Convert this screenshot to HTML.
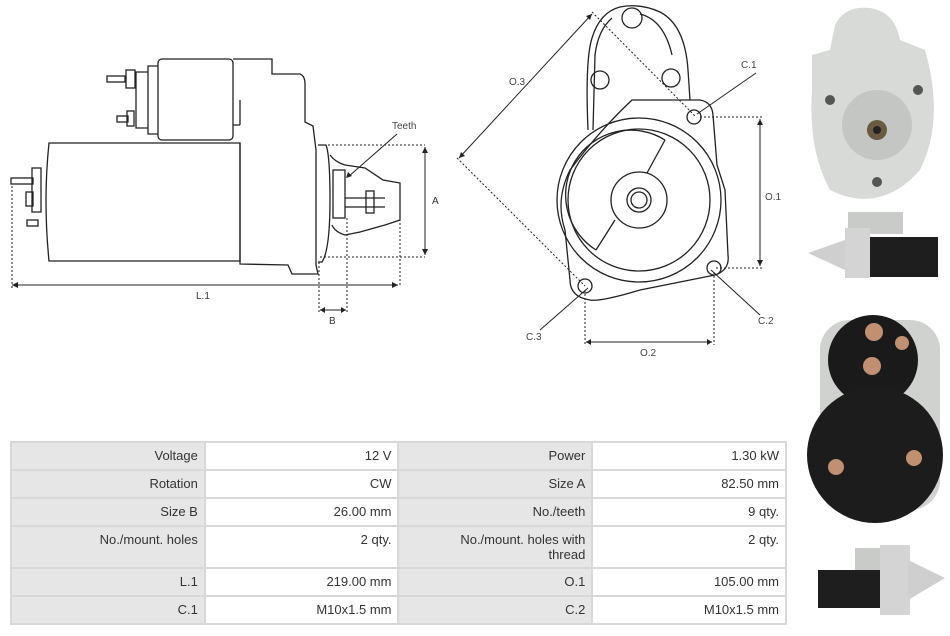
<!DOCTYPE html>
<html><head><meta charset="utf-8"><style>
body{margin:0;width:950px;height:636px;background:#fff;overflow:hidden;font-family:"Liberation Sans",sans-serif;position:relative}
table{position:absolute;left:10px;top:441px;border-collapse:collapse;width:777px;font-size:13px;color:#333}
td{border:2px solid #d8d8d8;text-align:right;padding:5px 6px 0 6px;vertical-align:top;width:182px}
td.l{background:#e6e6e6}
tr{height:28px}
</style></head><body>
<svg width="950" height="636" style="position:absolute;left:0;top:0" fill="none" stroke="#222" stroke-width="1.3" font-family="Liberation Sans" font-size="10">
<path d="M49 143 L240 143 L240 261 L49 261 Q43 200 49 143Z"/>
<rect x="158" y="59" width="75" height="81" rx="4"/>
<path d="M158 66 L148 66 L148 134 L158 134 M148 72 L136 72 L136 128 L148 128"/>
<path d="M233 59 L272 59 L272 74 L300 74 Q305 76 305 84 L305 122 L313 126 L316 150 L316 265 L318 274 L292 274 L288 265 L240 264 L240 143"/>
<path d="M240 125 L240 100 M240 125 L233 125"/>
<path d="M318 145 L326 145 Q330 155 330 200 Q330 250 322 262 L318 262"/>
<path d="M330 155 Q335 162 345 165 L365 168 L383 180 L400 183 L400 220 L385 225 L360 232 L345 235 Q335 232 332 225"/>
<rect x="333" y="170" width="12" height="48"/>
<path d="M345 198 L385 198 M345 207 L385 207"/>
<rect x="366" y="191" width="8" height="22"/>
<rect x="11" y="178" width="22" height="6"/><rect x="27" y="220" width="11" height="6"/>
<rect x="32" y="168" width="9" height="44"/><rect x="26" y="192" width="7" height="14"/>
<rect x="107" y="76" width="18" height="6"/><rect x="126" y="70" width="9" height="18"/>
<rect x="117" y="116" width="11" height="6"/><rect x="127" y="111" width="7" height="15"/>
<g stroke-dasharray="2 2" stroke-width="1">
<path d="M12 186 L12 290"/><path d="M320 145 L425 145 M320 257 L425 257"/>
<path d="M400 183 L400 285 M319 262 L319 312 M347 218 L347 312"/>
</g>
<path d="M12 285 L398 285 M425 147 L425 255 M320 310 L346 310 M348 177 L397 134" stroke-width="1"/>
<g fill="#222" stroke="none"><path d="M12 285 l6 -3 v6z M398 285 l-6 -3 v6z M425 147 l-3 6 h6z M425 255 l-3 -6 h6z M320 310 l5 -3 v6z M346 310 l-5 -3 v6z M346 178 l2 -6 l4 4z"/>
<text x="196" y="299" font-size="10" fill="#333">L.1</text><text x="329" y="324" fill="#333">B</text><text x="432" y="204" fill="#333">A</text><text x="392" y="129" fill="#444">Teeth</text></g>
<path d="M588 130 Q585 60 592 38 Q600 12 620 7 Q640 3 660 12 Q685 25 688 70 L690 100"/>
<path d="M593 130 L595 55 Q598 30 612 18 M640 14 Q664 20 672 55"/>
<circle cx="632" cy="18" r="10"/><circle cx="600" cy="80" r="9"/><circle cx="671" cy="78" r="9"/>
<path d="M632 100 L700 100 Q712 102 713 115 L717 165 L725 190 L728 255 Q730 270 715 275 L640 290 Q600 302 590 300 Q570 297 570 280 L565 230 Q555 200 570 170 Q600 130 632 100Z"/>
<circle cx="639" cy="200" r="82"/><circle cx="639" cy="200" r="71"/>
<path d="M665 140 A60 60 0 0 0 596 250" />
<path d="M665 140 L647 173 M615 220 L596 250"/>
<circle cx="639" cy="200" r="28"/><circle cx="639" cy="200" r="12"/><circle cx="639" cy="200" r="8"/>
<circle cx="694" cy="117" r="7"/><circle cx="714" cy="268" r="7"/><circle cx="585" cy="286" r="7"/>
<g stroke-dasharray="2 2" stroke-width="1">
<path d="M592 12 L696 117 M457 158 L585 286 M700 117 L763 117 M716 268 L763 268 M585 290 L585 345 M714 272 L714 345"/></g>
<path d="M592 14 L459 158 M760 119 L760 266 M586 342 L712 342 M756 73 L697 114 M711 270 L760 315 M588 288 L540 330" stroke-width="1"/>
<g fill="#222" stroke="none"><path d="M592 14 l-6 2 l4 4z M459 158 l6 -2 l-4 -4z M760 119 l-3 6 h6z M760 266 l-3 -6 h6z M586 342 l5 -3 v6z M712 342 l-5 -3 v6z"/>
<g fill="#444"><text x="509" y="85">O.3</text><text x="741" y="68">C.1</text><text x="765" y="200">O.1</text><text x="758" y="324">C.2</text><text x="640" y="356">O.2</text><text x="526" y="340">C.3</text></g></g>
<g stroke="none">
<path d="M835 25 Q845 5 870 8 Q895 12 900 40 L925 50 Q945 120 920 170 Q880 215 830 190 Q808 150 812 90 L812 55 L830 50Z" fill="#d8dad8"/>
<circle cx="877" cy="125" r="35" fill="#c4c6c4"/><circle cx="877" cy="130" r="10" fill="#6a5a40"/><circle cx="877" cy="130" r="4" fill="#222"/>
<circle cx="830" cy="100" r="5" fill="#555"/><circle cx="918" cy="90" r="5" fill="#555"/><circle cx="877" cy="182" r="5" fill="#555"/>
<rect x="848" y="212" width="55" height="22" fill="#c9cbc9"/><rect x="868" y="237" width="70" height="40" fill="#1e1e1e"/>
<rect x="845" y="228" width="25" height="50" fill="#d4d4d4"/><path d="M808 253 L845 240 L845 270Z" fill="#cfcfcf"/>
<rect x="820" y="320" width="120" height="190" rx="30" fill="#d0d2d0"/>
<circle cx="873" cy="360" r="45" fill="#1a1a1a"/>
<circle cx="875" cy="455" r="68" fill="#1c1c1c"/>
<circle cx="836" cy="467" r="8" fill="#c09070"/><circle cx="914" cy="458" r="8" fill="#c09070"/>
<circle cx="874" cy="332" r="9" fill="#c09070"/><circle cx="872" cy="366" r="9" fill="#c09070"/><circle cx="902" cy="343" r="7" fill="#c09070"/>
<rect x="855" y="548" width="45" height="22" fill="#c9cbc9"/><rect x="818" y="570" width="65" height="38" fill="#1e1e1e"/>
<rect x="880" y="545" width="30" height="70" fill="#d4d4d4"/><path d="M908 560 L945 578 L908 600Z" fill="#cfcfcf"/>
</g>
</svg>
<table>
<tr><td class="l">Voltage</td><td>12 V</td><td class="l">Power</td><td>1.30 kW</td></tr>
<tr><td class="l">Rotation</td><td>CW</td><td class="l">Size A</td><td>82.50 mm</td></tr>
<tr><td class="l">Size B</td><td>26.00 mm</td><td class="l">No./teeth</td><td>9 qty.</td></tr>
<tr style="height:42px"><td class="l">No./mount. holes</td><td>2 qty.</td><td class="l">No./mount. holes with<br>thread</td><td>2 qty.</td></tr>
<tr><td class="l">L.1</td><td>219.00 mm</td><td class="l">O.1</td><td>105.00 mm</td></tr>
<tr><td class="l">C.1</td><td>M10x1.5 mm</td><td class="l">C.2</td><td>M10x1.5 mm</td></tr>
</table>
</body></html>
